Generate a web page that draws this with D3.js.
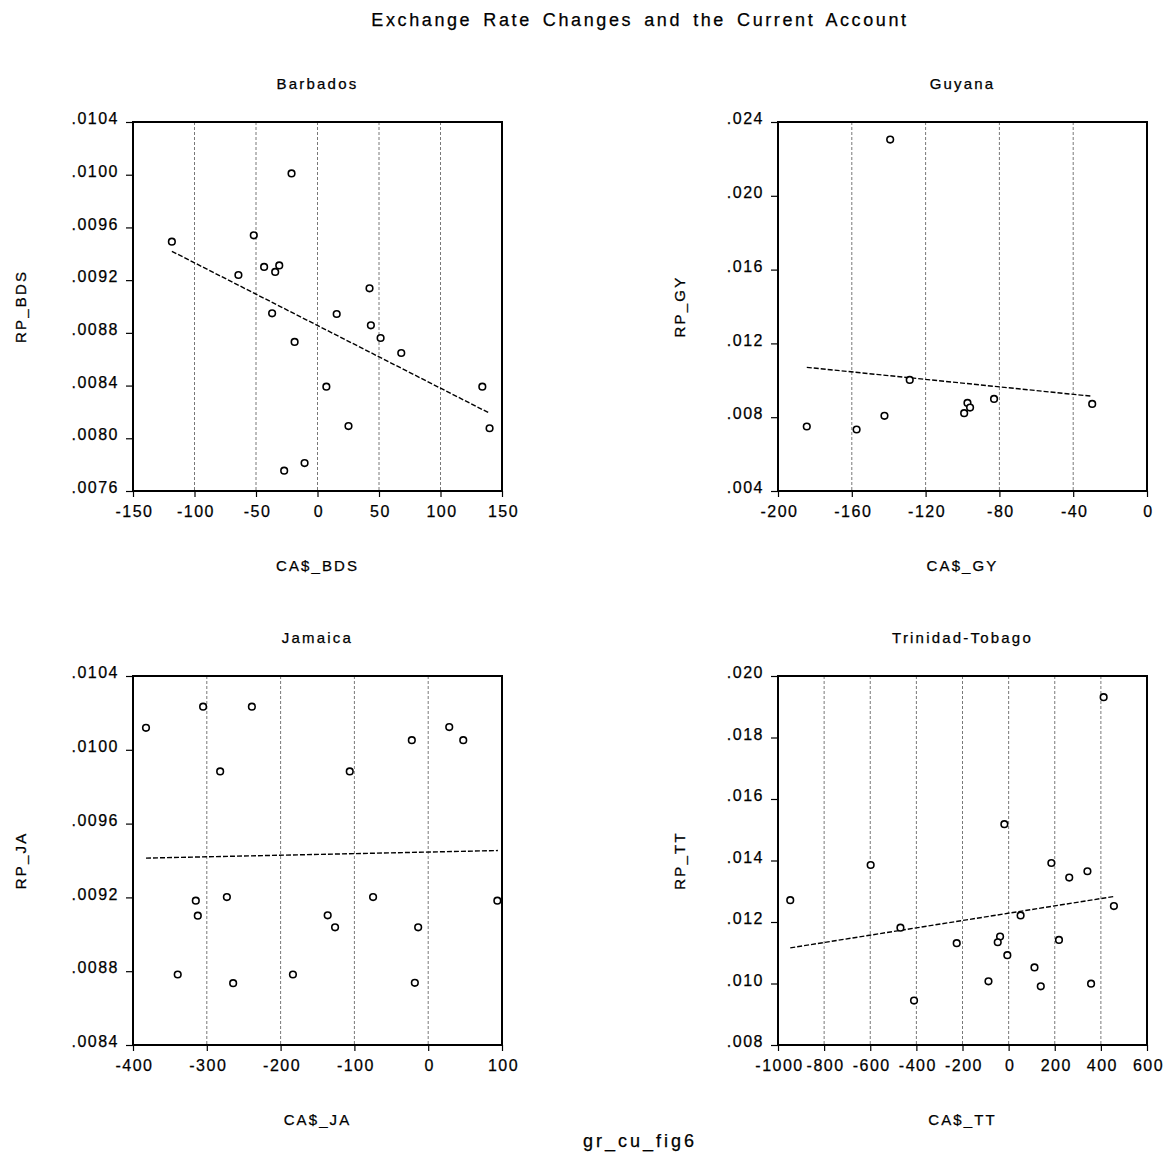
<!DOCTYPE html>
<html><head><meta charset="utf-8">
<script src="https://cdn.jsdelivr.net/npm/d3@7/dist/d3.min.js"></script>
<style>
body{margin:0;background:#fff;}
text{font-family:"Liberation Sans",Arial,sans-serif;fill:#000;stroke:#000;stroke-width:0.25px;}
</style></head>
<body><svg id="c" width="1172" height="1154"></svg>
<script>
// ---- data ----
const bdsX = [-118.4,-51.8,-21.1,-64.3,-43.4,-31.1,-34.4,-36.9,-18.6,-27.1,-10.5,7.2,15.6,25.2,42.3,43.4,51.3,68.1,134.0,139.9];
const bdsY = [.009492,.00954,.01001,.009239,.0093,.009312,.009262,.008948,.008731,.007754,.007812,.008392,.008943,.008093,.009138,.008857,.008761,.008647,.008392,.008076];
const bdsFit = [[-118.4,.009419],[140.2,.008189]];
const bdsXTicks = [-150,-100,-50,0,50,100,150];
const bdsYTicks = [.0076,.0080,.0084,.0088,.0092,.0096,.0100,.0104];

const gyX = [-184.4,-157.4,-142.3,-139.2,-128.6,-99.1,-97.3,-95.9,-82.9,-29.7];
const gyY = [.007495,.007333,.008072,.023045,.010018,.008216,.008775,.008523,.008991,.008721];
const gyFit = [[-184.4,.010703],[-29.7,.009135]];
const gyXTicks = [-200,-160,-120,-80,-40,0];
const gyYTicks = [.004,.008,.012,.016,.020,.024];

const jaX = [-382.4,-305.0,-238.9,-281.9,-314.9,-312.2,-272.8,-339.4,-264.3,-183.3,-136.2,-126.2,-106.3,-74.7,-22.2,-13.6,-18.1,28.5,47.5,93.7];
const jaY = [.010119,.010234,.010234,.009883,.009182,.009101,.009202,.008782,.008735,.008782,.009103,.009038,.009883,.009202,.010052,.009038,.008737,.010123,.010052,.009182];
const jaFit = [[-382.4,.009413],[94.5,.009454]];
const jaXTicks = [-400,-300,-200,-100,0,100];
const jaYTicks = [.0084,.0088,.0092,.0096,.0100,.0104];

const ttX = [-946.9,-598.2,-469.1,-410.2,-225.1,-87.4,-18.5,-37.1,-47.2,-5.6,51.9,112.1,139.4,185.3,218.3,262.8,341.7,357.5,412.0,456.5];
const ttY = [.012711,.013854,.011817,.009445,.01131,.01007,.015181,.011525,.011342,.010922,.012215,.010523,.009908,.013919,.011418,.013445,.01365,.009994,.01931,.012517];
const ttFit = [[-946.9,.011159],[456.5,.01283]];
const ttXTicks = [-1000,-800,-600,-400,-200,0,200,400,600];
const ttYTicks = [.008,.010,.012,.014,.016,.018,.020];

const panelNames = ["Barbados","Guyana","Jamaica","Trinidad-Tobago"];
const xLabels = ["CA$_BDS","CA$_GY","CA$_JA","CA$_TT"];
const yLabels = ["RP_BDS","RP_GY","RP_JA","RP_TT"];
const yDecimals = [4,3,4,3];
// ---- layout ----
const svg = d3.select("#c");
const W = 369, H = 369;
const origins = [[133,122],[778,122],[133,676],[778,676]];
const series = [
  {x:bdsX,y:bdsY,fit:bdsFit,xt:bdsXTicks,yt:bdsYTicks},
  {x:gyX,y:gyY,fit:gyFit,xt:gyXTicks,yt:gyYTicks},
  {x:jaX,y:jaY,fit:jaFit,xt:jaXTicks,yt:jaYTicks},
  {x:ttX,y:ttY,fit:ttFit,xt:ttXTicks,yt:ttYTicks}
];
const labX = [26,685,26,685];

svg.append("text").attr("x",640).attr("y",26).attr("text-anchor","middle")
  .style("font-size","18px").style("letter-spacing","2.6px").style("word-spacing","3.5px")
  .text("Exchange Rate Changes and the Current Account");
svg.append("text").attr("x",640).attr("y",1147).attr("text-anchor","middle")
  .style("font-size","18px").style("letter-spacing","3px").text("gr_cu_fig6");

series.forEach((s,i)=>{
  const [ox,oy] = origins[i];
  const g = svg.append("g").attr("transform",`translate(${ox},${oy})`);
  const x = d3.scaleLinear().domain(d3.extent(s.xt)).range([0,W]);
  const y = d3.scaleLinear().domain(d3.extent(s.yt)).range([H,0]);
  const fmt = v => d3.format("."+yDecimals[i]+"f")(v).replace(/^0/,"");

  // gridlines
  g.append("g").selectAll("line").data(s.xt.slice(1,-1)).join("line")
    .attr("x1",d=>x(d)).attr("x2",d=>x(d)).attr("y1",0).attr("y2",H)
    .attr("stroke","#555").attr("stroke-width",0.8).attr("stroke-dasharray","3,2");

  // axes
  const xa = g.append("g").attr("transform",`translate(0,${H})`)
    .call(d3.axisBottom(x).tickValues(s.xt).tickSize(6).tickPadding(3).tickFormat(v=>String(v)));
  const ya = g.append("g")
    .call(d3.axisLeft(y).tickValues(s.yt).tickSize(7).tickPadding(7).tickFormat(fmt));
  [xa,ya].forEach(a=>{
    a.select(".domain").remove();
    a.selectAll("line").attr("stroke","#000").attr("stroke-width",1.2);
    a.selectAll("text").style("font-size","16px").style("letter-spacing","1.5px")
      .style("font-family","'Liberation Sans',Arial,sans-serif").attr("fill","#000");
  });
  xa.selectAll("text").attr("dy","1.05em").attr("dx","1px");
  ya.selectAll("text").attr("dy","0.1em");

  // frame
  g.append("rect").attr("x",0).attr("y",0).attr("width",W).attr("height",H)
    .attr("fill","none").attr("stroke","#000").attr("stroke-width",2);

  // fit line
  g.append("path").datum(s.fit)
    .attr("d",d3.line().x(d=>x(d[0])).y(d=>y(d[1])))
    .attr("fill","none").attr("stroke","#000").attr("stroke-width",1.4).attr("stroke-dasharray","5,2");

  // points
  g.append("g").selectAll("circle").data(d3.zip(s.x,s.y)).join("circle")
    .attr("cx",d=>x(d[0])).attr("cy",d=>y(d[1])).attr("r",3.3)
    .attr("fill","#fff").attr("stroke","#000").attr("stroke-width",1.6);

  // labels
  svg.append("text").attr("x",ox+W/2).attr("y",oy-33).attr("text-anchor","middle")
    .style("font-size","15px").style("letter-spacing","2.2px").text(panelNames[i]);
  svg.append("text").attr("x",ox+W/2).attr("y",oy+H+80).attr("text-anchor","middle")
    .style("font-size","15px").style("letter-spacing","2.1px").text(xLabels[i]);
  svg.append("text").attr("transform",`translate(${labX[i]},${oy+H/2}) rotate(-90)`).attr("text-anchor","middle")
    .style("font-size","15px").style("letter-spacing","2.2px").text(yLabels[i]);
});
</script></body></html>
